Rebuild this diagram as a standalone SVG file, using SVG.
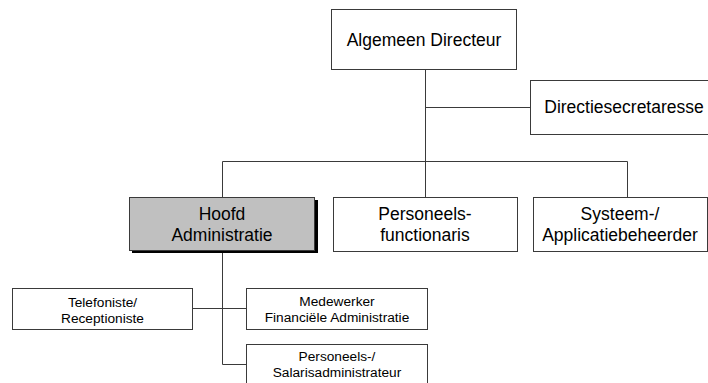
<svg xmlns="http://www.w3.org/2000/svg" width="708" height="383" viewBox="0 0 708 383">
  <style>
    .box { fill: #ffffff; stroke: #3a3a3a; stroke-width: 1; }
    .head { fill: #c0c0c0; stroke: #3a3a3a; stroke-width: 1; }
    .shadow { fill: #000000; }
    .link { fill: none; stroke: #3a3a3a; stroke-width: 1; }
    .big { font-family: "Liberation Sans", Arial, sans-serif; font-size: 17.5px; fill: #000; text-anchor: middle; }
    .small { font-family: "Liberation Sans", Arial, sans-serif; font-size: 13.7px; fill: #000; text-anchor: middle; }
  </style>
  <rect width="708" height="383" fill="#ffffff"/>

  <!-- connectors -->
  <g id="connectors">
    <path class="link" d="M425.5 69 V161.5"/>
    <path class="link" d="M425.5 107.5 H530"/>
    <path class="link" d="M222.5 197 V161.5 H627.5 V197"/>
    <path class="link" d="M425.5 161.5 V197"/>
    <path class="link" d="M222.5 250 V364.5 H246"/>
    <path class="link" d="M193 308.5 H246"/>
  </g>

  <g id="algemeen-directeur">
    <rect class="box" x="331.5" y="9.5" width="185" height="60"/>
    <text class="big" x="424" y="46">Algemeen Directeur</text>
  </g>

  <g id="directiesecretaresse">
    <rect class="box" x="530.5" y="80.5" width="190" height="54"/>
    <text class="big" x="624" y="113">Directiesecretaresse</text>
  </g>

  <g id="hoofd-administratie">
    <rect class="shadow" x="132" y="200" width="186" height="53"/>
    <rect class="head" x="129.5" y="197.5" width="185" height="53"/>
    <text class="big" x="222" y="219.5">Hoofd</text>
    <text class="big" x="222" y="240.5">Administratie</text>
  </g>

  <g id="personeelsfunctionaris">
    <rect class="box" x="333.5" y="197.5" width="184" height="54"/>
    <text class="big" x="425" y="219.5">Personeels-</text>
    <text class="big" x="425" y="240.5">functionaris</text>
  </g>

  <g id="applicatiebeheerder">
    <rect class="box" x="533.5" y="197.5" width="174" height="54"/>
    <text class="big" x="620" y="219.5">Systeem-/</text>
    <text class="big" x="620" y="240.5">Applicatiebeheerder</text>
  </g>

  <g id="telefoniste">
    <rect class="box" x="12.5" y="288.5" width="180" height="41"/>
    <text class="small" x="102.5" y="306.5">Telefoniste/</text>
    <text class="small" x="102.5" y="323">Receptioniste</text>
  </g>

  <g id="medewerker-financien">
    <rect class="box" x="246.5" y="288.5" width="181" height="41"/>
    <text class="small" x="337" y="305.5">Medewerker</text>
    <text class="small" x="337" y="322">Financiële Administratie</text>
  </g>

  <g id="salarisadministrateur">
    <rect class="box" x="246.5" y="344.5" width="181" height="45"/>
    <text class="small" x="337" y="360.5">Personeels-/</text>
    <text class="small" x="337" y="377">Salarisadministrateur</text>
  </g>
</svg>
